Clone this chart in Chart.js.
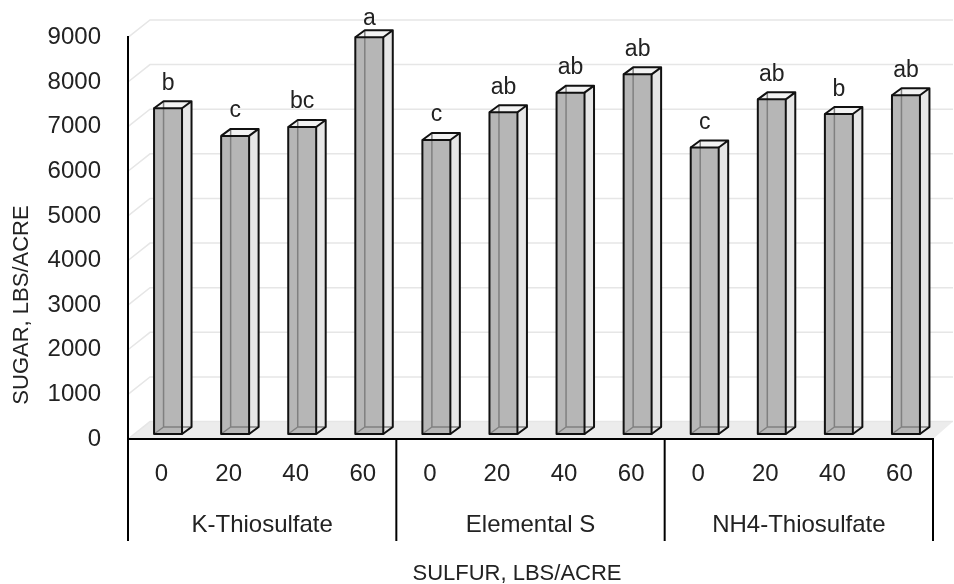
<!DOCTYPE html>
<html><head><meta charset="utf-8">
<style>html,body{margin:0;padding:0;background:#fff}#wrap{width:954px;height:584px}</style>
<script src="https://cdn.jsdelivr.net/npm/chart.js@4.4.1/dist/chart.umd.min.js"></script>
</head><body><div id="wrap"><canvas id="c" width="954" height="584"></canvas></div>
<script>
// ---- data ----
const rates = ['0','20','40','60','0','20','40','60','0','20','40','60'];
const sources = ['K-Thiosulfate','Elemental S','NH4-Thiosulfate'];
const sugar = [7300,6680,6880,8890,6590,7210,7650,8060,6420,7500,7170,7590];
const letters = ['b','c','bc','a','c','ab','ab','ab','c','ab','b','ab'];
const yTicks = [0,1000,2000,3000,4000,5000,6000,7000,8000,9000];
const yTitle = 'SUGAR, LBS/ACRE';
const xTitle = 'SULFUR, LBS/ACRE';

// ---- style ----
const FONT = '"Liberation Sans", Arial, sans-serif';
const TXT = '#222';
const D = {wallX:22, wallY:-17.4, frontX:6.5, frontY:-5, barX:9.5, barY:-7};

const noPad = s => { s.paddingTop = 0; s.paddingBottom = 0; s.paddingLeft = 0; s.paddingRight = 0; };

const bgPlugin = {
  id:'bg3d',
  beforeDraw(chart){
    const ctx = chart.ctx, a = chart.chartArea, y = chart.scales.y;
    ctx.save();
    // floor
    ctx.fillStyle = '#ececec';
    ctx.beginPath();
    ctx.moveTo(a.left, a.bottom); ctx.lineTo(a.right, a.bottom);
    ctx.lineTo(a.right + D.wallX - 2, a.bottom + D.wallY);
    ctx.lineTo(a.left + D.wallX, a.bottom + D.wallY);
    ctx.closePath(); ctx.fill();
    // back wall + side wall gridlines
    ctx.strokeStyle = '#e6e6e6'; ctx.lineWidth = 1.5;
    yTicks.forEach(v => {
      const py = y.getPixelForValue(v);
      ctx.beginPath();
      ctx.moveTo(a.left, py);
      ctx.lineTo(a.left + D.wallX, py + D.wallY);
      ctx.lineTo(a.right + D.wallX - 2, py + D.wallY);
      ctx.stroke();
    });
    ctx.restore();
  },
  afterDraw(chart){
    const ctx = chart.ctx, a = chart.chartArea, x2 = chart.scales.x2;
    ctx.save();
    // group separators
    ctx.strokeStyle = '#000'; ctx.lineWidth = 2;
    const cw = (a.right - a.left) / rates.length;
    for (let k = 0; k <= sources.length; k++) {
      const px = a.left + k * 4 * cw;
      ctx.beginPath(); ctx.moveTo(px, a.bottom); ctx.lineTo(px, x2.bottom); ctx.stroke();
    }
    // titles
    ctx.fillStyle = TXT; ctx.font = '22px ' + FONT;
    ctx.textAlign = 'center'; ctx.textBaseline = 'middle';
    ctx.fillText(xTitle, 517, x2.bottom + 33);
    ctx.translate(22, 305); ctx.rotate(-Math.PI/2);
    ctx.fillText(yTitle, 0, 0);
    ctx.restore();
  }
};

const prismPlugin = {
  id:'prism',
  afterDatasetsDraw(chart){
    const ctx = chart.ctx, meta = chart.getDatasetMeta(0);
    ctx.save();
    meta.data.forEach((el, i) => {
      const p = el.getProps(['x','y','base','width'], true);
      const x0 = p.x - p.width/2 + D.frontX, x1 = p.x + p.width/2 + D.frontX;
      const yt = p.y + D.frontY, yb = p.base + D.frontY;
      const dx = D.barX, dy = D.barY;
      // side face
      ctx.fillStyle = '#e6e6e6';
      ctx.beginPath(); ctx.moveTo(x1, yb); ctx.lineTo(x1+dx, yb+dy); ctx.lineTo(x1+dx, yt+dy); ctx.lineTo(x1, yt); ctx.closePath(); ctx.fill();
      // top face
      ctx.fillStyle = '#f2f2f2';
      ctx.beginPath(); ctx.moveTo(x0, yt); ctx.lineTo(x1, yt); ctx.lineTo(x1+dx, yt+dy); ctx.lineTo(x0+dx, yt+dy); ctx.closePath(); ctx.fill();
      // front face
      ctx.fillStyle = '#b6b6b6';
      ctx.fillRect(x0, yt, x1-x0, yb-yt);
      // hidden edges seen through
      ctx.strokeStyle = '#808080'; ctx.lineWidth = 1.5;
      ctx.beginPath();
      ctx.moveTo(x0+dx, yt+dy); ctx.lineTo(x0+dx, yb+dy); ctx.lineTo(x1+dx, yb+dy);
      ctx.moveTo(x0, yb); ctx.lineTo(x0+dx, yb+dy);
      ctx.stroke();
      // outlines
      ctx.strokeStyle = '#111'; ctx.lineWidth = 2; ctx.lineJoin = 'round';
      ctx.strokeRect(x0, yt, x1-x0, yb-yt);
      ctx.beginPath();
      ctx.moveTo(x0, yt); ctx.lineTo(x0+dx, yt+dy); ctx.lineTo(x1+dx, yt+dy); ctx.lineTo(x1, yt);
      ctx.moveTo(x1+dx, yt+dy); ctx.lineTo(x1+dx, yb+dy); ctx.lineTo(x1, yb);
      ctx.stroke();
      // letter label
      ctx.fillStyle = TXT; ctx.font = '23px ' + FONT;
      ctx.textAlign = 'center'; ctx.textBaseline = 'alphabetic';
      const by = Math.max(yt - 18.5, 25);
      ctx.fillText(letters[i], (x0 + x1)/2, by);
    });
    ctx.restore();
  }
};

new Chart(document.getElementById('c'), {
  type:'bar',
  data:{
    labels: rates,
    datasets:[{
      label:'Sugar',
      data: sugar,
      backgroundColor:'rgba(0,0,0,0)',
      borderWidth:0,
      barPercentage:0.417,
      categoryPercentage:1
    }]
  },
  options:{
    responsive:false,
    devicePixelRatio:1,
    animation:false,
    layout:{padding:{top:37.4, right:21, bottom:43, left:0}},
    plugins:{legend:{display:false}, tooltip:{enabled:false}},
    scales:{
      x:{
        type:'category',
        grid:{display:false},
        border:{display:true, color:'#000', width:2},
        ticks:{color:TXT, font:{family:FONT, size:24}, padding:13, maxRotation:0, autoSkip:false},
        afterFit(s){ s.height = 59; noPad(s); }
      },
      x2:{
        type:'category',
        labels: sources,
        offset:true,
        position:'bottom',
        grid:{display:false},
        border:{display:false},
        ticks:{color:TXT, font:{family:FONT, size:24}, padding:5, maxRotation:0, autoSkip:false},
        afterFit(s){ s.height = 43; noPad(s); }
      },
      y:{
        min:0, max:9000,
        afterBuildTicks(s){ s.ticks = yTicks.map(v => ({value:v})); },
        grid:{display:false},
        border:{display:true, color:'#000', width:2},
        ticks:{color:TXT, font:{family:FONT, size:24}, padding:19, callback:(v) => String(v)},
        afterFit(s){ s.width = 128; noPad(s); }
      }
    }
  },
  plugins:[bgPlugin, prismPlugin]
});
</script></body></html>
